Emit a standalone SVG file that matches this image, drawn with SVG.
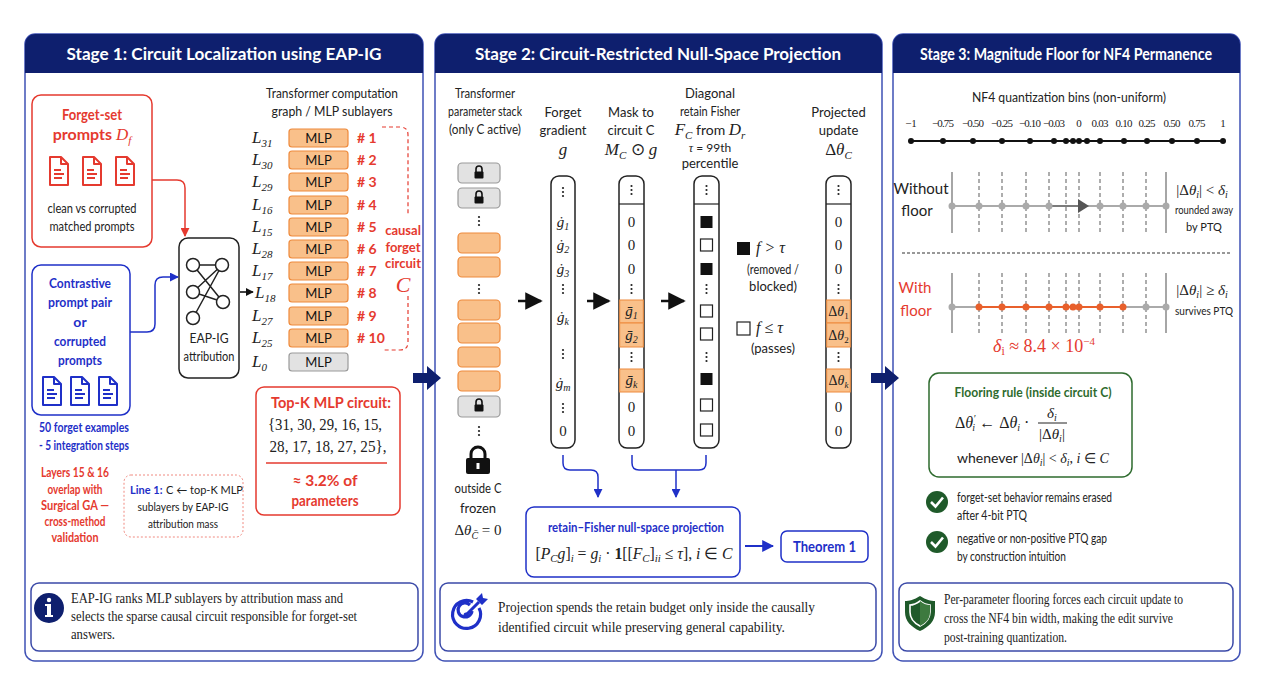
<svg xmlns="http://www.w3.org/2000/svg" width="1272" height="682" viewBox="0 0 1272 682">
<style>
.sans{font-family:Lato,"Liberation Sans",sans-serif}
.serif{font-family:"Liberation Serif",serif}
.it{font-style:italic}
.ttl{font-family:Lato,"Liberation Sans",sans-serif;font-weight:700;font-size:17px;fill:#fff}
.panel{fill:#fff;stroke:#3f51b5;stroke-width:1.5}
.hdr{fill:#0e1f6e}
.red{fill:#e53a2f}
.blue{fill:#1f30c8}
.green{fill:#2e6b2e}
.mlp{fill:#f9c08a;stroke:#ee8a3c;stroke-width:1.2}
.mlpg{fill:#e2e2e2;stroke:#9a9a9a;stroke-width:1.2}
.col{fill:#fff;stroke:#222;stroke-width:1.5}
.cell{fill:#f9c08a;stroke:#ee8a3c;stroke-width:1}
.infobox{fill:#fff;stroke:#3b4aa8;stroke-width:1.5}
.dash{stroke:#777;stroke-width:1.2;stroke-dasharray:4 3}
</style>
<defs>
<marker id="ah" viewBox="0 0 10 10" refX="9" refY="5" markerWidth="5" markerHeight="5" orient="auto"><path d="M0,0 L10,5 L0,10 Z" fill="#111"/></marker>
<marker id="ahs" viewBox="0 0 10 10" refX="9" refY="5" markerWidth="7" markerHeight="7" orient="auto"><path d="M0,0 L10,5 L0,10 Z" fill="#111"/></marker>
<marker id="ahr" viewBox="0 0 10 10" refX="9" refY="5" markerWidth="6" markerHeight="6" orient="auto"><path d="M0,0 L10,5 L0,10 Z" fill="#e53a2f"/></marker>
<marker id="ahb" viewBox="0 0 10 10" refX="9" refY="5" markerWidth="6" markerHeight="6" orient="auto"><path d="M0,0 L10,5 L0,10 Z" fill="#1f30c8"/></marker>
<g id="docr" fill="none" stroke="#e53a2f" stroke-width="2" stroke-linejoin="round"><path d="M0,0 H11 L18,7 V28 H0 Z"/><path d="M11,0 V7 H18"/><path d="M4,13 H11 M4,17 H14 M4,21 H12"/></g>
<g id="docb" fill="none" stroke="#1f30c8" stroke-width="2" stroke-linejoin="round"><path d="M0,0 H11 L18,7 V28 H0 Z"/><path d="M11,0 V7 H18"/><path d="M4,13 H11 M4,17 H14 M4,21 H12"/></g>
<g id="lock"><path d="M-3,0 V-3 A3,3 0 0 1 3,-3 V0" fill="none" stroke="#111" stroke-width="1.6"/><rect x="-4.5" y="-0.5" width="9" height="7" rx="1" fill="#111"/></g>
<g id="vd" fill="#222"><circle cx="0" cy="-4" r="1.1"/><circle cx="0" cy="0" r="1.1"/><circle cx="0" cy="4" r="1.1"/></g>
</defs>
<rect width="1272" height="682" fill="#fff"/>

<!-- Panels -->
<g id="panel1">
<rect class="panel" x="25" y="34" width="398" height="627" rx="10"/>
<path class="hdr" d="M25,73 V44 A10,10 0 0 1 35,34 H413 A10,10 0 0 1 423,44 V73 Z"/>
<text class="ttl" x="224" y="60" text-anchor="middle" textLength="315" lengthAdjust="spacingAndGlyphs">Stage 1: Circuit Localization using EAP-IG</text>
</g>
<g id="panel2">
<rect class="panel" x="435" y="34" width="447" height="627" rx="10"/>
<path class="hdr" d="M435,73 V44 A10,10 0 0 1 445,34 H872 A10,10 0 0 1 882,44 V73 Z"/>
<text class="ttl" x="658" y="60" text-anchor="middle" textLength="366" lengthAdjust="spacingAndGlyphs">Stage 2: Circuit-Restricted Null-Space Projection</text>
</g>
<g id="panel3">
<rect class="panel" x="893" y="34" width="347" height="627" rx="10"/>
<path class="hdr" d="M893,73 V44 A10,10 0 0 1 903,34 H1230 A10,10 0 0 1 1240,44 V73 Z"/>
<text class="ttl" x="1066" y="60" text-anchor="middle" font-size="16" textLength="292" lengthAdjust="spacingAndGlyphs">Stage 3: Magnitude Floor for NF4 Permanence</text>
</g>

<!-- Stage 1 nodes -->
<g id="forget-set">
<rect x="32" y="95" width="120" height="152" rx="9" fill="#fff" stroke="#e53a2f" stroke-width="1.5"/>
<text class="sans red" x="92" y="120" text-anchor="middle" font-size="16" font-weight="700" textLength="60" lengthAdjust="spacingAndGlyphs">Forget-set</text>
<text class="sans red" x="92" y="140" text-anchor="middle" font-size="16" font-weight="700">prompts <tspan class="serif it" font-weight="400" font-size="17">D</tspan><tspan class="serif it" font-weight="400" font-size="11" dy="4">f</tspan></text>
<use href="#docr" x="50" y="157"/><use href="#docr" x="83" y="157"/><use href="#docr" x="116" y="157"/>
<text class="sans" x="92" y="213" text-anchor="middle" font-size="13" fill="#222" textLength="89" lengthAdjust="spacingAndGlyphs">clean vs corrupted</text>
<text class="sans" x="92" y="231" text-anchor="middle" font-size="13" fill="#222" textLength="85" lengthAdjust="spacingAndGlyphs">matched prompts</text>
</g>
<g id="contrastive">
<rect x="32" y="265" width="98" height="150" rx="9" fill="#fff" stroke="#1f30c8" stroke-width="1.5"/>
<g class="sans blue" font-size="14" font-weight="700" text-anchor="middle">
<text x="80" y="288" textLength="62" lengthAdjust="spacingAndGlyphs">Contrastive</text>
<text x="80" y="307" textLength="64" lengthAdjust="spacingAndGlyphs">prompt pair</text>
<text x="80" y="327">or</text>
<text x="80" y="346" textLength="52" lengthAdjust="spacingAndGlyphs">corrupted</text>
<text x="80" y="365" textLength="44" lengthAdjust="spacingAndGlyphs">prompts</text>
</g>
<use href="#docb" x="43" y="377"/><use href="#docb" x="71" y="377"/><use href="#docb" x="99" y="377"/>
</g>
<g id="forget-note" class="sans blue" font-size="13" font-weight="700" text-anchor="middle">
<text x="84" y="432" textLength="90" lengthAdjust="spacingAndGlyphs">50 forget examples</text>
<text x="84" y="450" textLength="90" lengthAdjust="spacingAndGlyphs">- 5 integration steps</text>
</g>
<g id="overlap-note" class="sans red" font-size="13" font-weight="700" text-anchor="middle">
<text x="75" y="477" textLength="68" lengthAdjust="spacingAndGlyphs">Layers 15 &amp; 16</text>
<text x="75" y="494" textLength="55" lengthAdjust="spacingAndGlyphs">overlap with</text>
<text x="75" y="510" textLength="68" lengthAdjust="spacingAndGlyphs">Surgical GA —</text>
<text x="75" y="526" textLength="61" lengthAdjust="spacingAndGlyphs">cross-method</text>
<text x="75" y="542" textLength="47" lengthAdjust="spacingAndGlyphs">validation</text>
</g>
<g id="line1-note">
<rect x="124" y="475" width="119" height="62" rx="7" fill="#fff" stroke="#f08a80" stroke-width="1" stroke-dasharray="2 2"/>
<text class="sans blue" x="130" y="494" font-size="11" font-weight="700">Line 1:</text>
<text class="sans" x="166" y="494" font-size="11" fill="#222">C ← top-K MLP</text>
<text class="sans" x="183" y="511" text-anchor="middle" font-size="12" fill="#222" textLength="91" lengthAdjust="spacingAndGlyphs">sublayers by EAP-IG</text>
<text class="sans" x="183" y="528" text-anchor="middle" font-size="12" fill="#222" textLength="70" lengthAdjust="spacingAndGlyphs">attribution mass</text>
</g>
<g id="eap-ig">
<rect x="179" y="238" width="60" height="140" rx="9" fill="#fff" stroke="#222" stroke-width="1.5"/>
<g stroke="#222" stroke-width="1.5" fill="none">
<path d="M193,265 L222,265 M193,265 L223,302 M222,265 L193,292 M222,265 L193,318 M193,292 L223,302"/>
<circle cx="193" cy="265" r="6.5" fill="#fff"/><circle cx="222" cy="265" r="6.5" fill="#fff"/><circle cx="193" cy="292" r="6.5" fill="#fff"/><circle cx="223" cy="302" r="6.5" fill="#fff"/><circle cx="193" cy="318" r="6.5" fill="#fff"/>
</g>
<text class="sans" x="209" y="343" text-anchor="middle" font-size="13" fill="#222" textLength="39" lengthAdjust="spacingAndGlyphs">EAP-IG</text>
<text class="sans" x="209" y="361" text-anchor="middle" font-size="13" fill="#222" textLength="51" lengthAdjust="spacingAndGlyphs">attribution</text>
</g>
<g id="mlp-stack">
<text class="sans" x="332" y="98" text-anchor="middle" font-size="13" fill="#222" textLength="132" lengthAdjust="spacingAndGlyphs">Transformer computation</text>
<text class="sans" x="332" y="116" text-anchor="middle" font-size="13" fill="#222" textLength="121" lengthAdjust="spacingAndGlyphs">graph / MLP sublayers</text>
<g class="serif it" font-size="17" fill="#222">
<text x="252" y="143">L<tspan font-size="11" dy="4">31</tspan></text>
<text x="252" y="165">L<tspan font-size="11" dy="4">30</tspan></text>
<text x="252" y="187">L<tspan font-size="11" dy="4">29</tspan></text>
<text x="252" y="210">L<tspan font-size="11" dy="4">16</tspan></text>
<text x="252" y="232">L<tspan font-size="11" dy="4">15</tspan></text>
<text x="252" y="254">L<tspan font-size="11" dy="4">28</tspan></text>
<text x="252" y="276">L<tspan font-size="11" dy="4">17</tspan></text>
<text x="255" y="298">L<tspan font-size="11" dy="4">18</tspan></text>
<text x="252" y="321">L<tspan font-size="11" dy="4">27</tspan></text>
<text x="252" y="343">L<tspan font-size="11" dy="4">25</tspan></text>
<text x="252" y="367">L<tspan font-size="11" dy="4">0</tspan></text>
</g>
<rect class="mlp" x="289" y="129" width="59" height="18" rx="3"/>
<rect class="mlp" x="289" y="151" width="59" height="18" rx="3"/>
<rect class="mlp" x="289" y="173" width="59" height="18" rx="3"/>
<rect class="mlp" x="289" y="196" width="59" height="18" rx="3"/>
<rect class="mlp" x="289" y="218" width="59" height="18" rx="3"/>
<rect class="mlp" x="289" y="240" width="59" height="18" rx="3"/>
<rect class="mlp" x="289" y="262" width="59" height="18" rx="3"/>
<rect class="mlp" x="289" y="284" width="59" height="18" rx="3"/>
<rect class="mlp" x="289" y="307" width="59" height="18" rx="3"/>
<rect class="mlp" x="289" y="329" width="59" height="18" rx="3"/>
<rect class="mlpg" x="289" y="353" width="59" height="18" rx="3"/>
<g class="sans" font-size="13" fill="#111" text-anchor="middle">
<text x="318.5" y="143">MLP</text><text x="318.5" y="165">MLP</text><text x="318.5" y="187">MLP</text><text x="318.5" y="210">MLP</text><text x="318.5" y="232">MLP</text><text x="318.5" y="254">MLP</text><text x="318.5" y="276">MLP</text><text x="318.5" y="298">MLP</text><text x="318.5" y="321">MLP</text><text x="318.5" y="343">MLP</text><text x="318.5" y="367">MLP</text>
</g>
<g class="sans red" font-size="14" font-weight="700">
<text x="357" y="143"># 1</text><text x="357" y="165"># 2</text><text x="357" y="187"># 3</text><text x="357" y="210"># 4</text><text x="357" y="232"># 5</text><text x="357" y="254"># 6</text><text x="357" y="276"># 7</text><text x="357" y="298"># 8</text><text x="357" y="321"># 9</text><text x="357" y="343"># 10</text>
</g>
</g>
<g id="causal-circuit">
<path d="M382,127 H400 Q408,127 408,135 V216 M408,296 V342 Q408,350 400,350 H382" fill="none" stroke="#e53a2f" stroke-width="1.2" stroke-dasharray="4 3"/>
<g class="sans red" font-size="13" font-weight="700" text-anchor="middle">
<text x="403" y="235">causal</text><text x="403" y="252">forget</text><text x="403" y="268">circuit</text>
</g>
<text class="serif it red" x="403" y="292" text-anchor="middle" font-size="22">C</text>
</g>
<g id="topk">
<rect x="256" y="387" width="144" height="128" rx="8" fill="#fff" stroke="#e53a2f" stroke-width="1.5"/>
<text class="sans red" x="331" y="408" text-anchor="middle" font-size="15" font-weight="700" textLength="120" lengthAdjust="spacingAndGlyphs">Top-K MLP circuit:</text>
<text class="serif" x="325" y="430" text-anchor="middle" font-size="16" fill="#222" textLength="114" lengthAdjust="spacingAndGlyphs">{31, 30, 29, 16, 15,</text>
<text class="serif" x="328" y="452" text-anchor="middle" font-size="16" fill="#222" textLength="117" lengthAdjust="spacingAndGlyphs">28, 17, 18, 27, 25},</text>
<line x1="266" y1="463" x2="387" y2="463" stroke="#e53a2f" stroke-width="1.3"/>
<text class="sans red" x="325" y="486" text-anchor="middle" font-size="16" font-weight="700" textLength="65" lengthAdjust="spacingAndGlyphs">≈ 3.2% of</text>
<text class="sans red" x="325" y="506" text-anchor="middle" font-size="16" font-weight="700" textLength="67" lengthAdjust="spacingAndGlyphs">parameters</text>
</g>
<g id="info1">
<rect class="infobox" x="31" y="583" width="387" height="68" rx="8"/>
<circle cx="49" cy="608" r="15" fill="#0e1f6e"/>
<circle cx="49" cy="600" r="2.2" fill="#fff"/>
<path d="M45,604 H51 V615 H53 V617 H45 V615 H47 V606 H45 Z" fill="#fff"/>
<g class="serif" font-size="14" fill="#222">
<text x="71" y="603" textLength="272" lengthAdjust="spacingAndGlyphs">EAP-IG ranks MLP sublayers by attribution mass and</text>
<text x="71" y="621" textLength="286" lengthAdjust="spacingAndGlyphs">selects the sparse causal circuit responsible for forget-set</text>
<text x="71" y="639" textLength="44" lengthAdjust="spacingAndGlyphs">answers.</text>
</g>
</g>

<!-- Stage 2 nodes -->
<g id="param-stack">
<g class="sans" font-size="13" fill="#222" text-anchor="middle">
<text x="485" y="98" textLength="60" lengthAdjust="spacingAndGlyphs">Transformer</text>
<text x="485" y="116" textLength="74" lengthAdjust="spacingAndGlyphs">parameter stack</text>
<text x="485" y="134" textLength="72" lengthAdjust="spacingAndGlyphs">(only C active)</text>
</g>
<rect class="mlpg" x="458" y="163" width="42" height="20" rx="4"/>
<rect class="mlpg" x="458" y="188" width="42" height="20" rx="4"/>
<use href="#vd" x="479" y="221"/>
<rect class="mlp" x="458" y="233" width="42" height="20" rx="4"/>
<rect class="mlp" x="458" y="257" width="42" height="20" rx="4"/>
<use href="#vd" x="479" y="289"/>
<rect class="mlp" x="458" y="300" width="42" height="20" rx="4"/>
<rect class="mlp" x="458" y="323" width="42" height="20" rx="4"/>
<rect class="mlp" x="458" y="347" width="42" height="20" rx="4"/>
<rect class="mlp" x="458" y="371" width="42" height="20" rx="4"/>
<rect class="mlpg" x="458" y="396" width="42" height="21" rx="4"/>
<use href="#lock" x="479" y="172"/><use href="#lock" x="479" y="197"/><use href="#lock" x="479" y="405"/>
<use href="#vd" x="479" y="431"/>
<path d="M471,459 V454 A7,7 0 0 1 485,454 V459" fill="none" stroke="#111" stroke-width="3"/>
<rect x="466" y="458" width="24" height="16" rx="2" fill="#111"/>
<rect x="476.5" y="463" width="3" height="6" fill="#fff"/>
<text class="sans" x="478" y="493" text-anchor="middle" font-size="13" fill="#222" textLength="47" lengthAdjust="spacingAndGlyphs">outside C</text>
<text class="sans" x="478" y="513" text-anchor="middle" font-size="13" fill="#222">frozen</text>
<text class="serif" x="478" y="535" text-anchor="middle" font-size="15" fill="#222">Δ<tspan class="it">θ</tspan><tspan class="it" font-size="10" dy="4">C̄</tspan><tspan dy="-4"> = 0</tspan></text>
</g>
<g id="forget-gradient">
<text class="sans" x="563" y="117" text-anchor="middle" font-size="13" fill="#222">Forget</text>
<text class="sans" x="563" y="135" text-anchor="middle" font-size="13" fill="#222">gradient</text>
<text class="serif it" x="563" y="155" text-anchor="middle" font-size="17" fill="#222">g</text>
<rect class="col" x="551" y="176" width="24" height="272" rx="8"/>
<use href="#vd" x="563" y="192"/>
<g class="serif it" font-size="15" fill="#222" text-anchor="middle">
<text x="563" y="227">ġ<tspan font-size="10" dy="3">1</tspan></text>
<text x="563" y="250">ġ<tspan font-size="10" dy="3">2</tspan></text>
<text x="563" y="274">ġ<tspan font-size="10" dy="3">3</tspan></text>
<text x="563" y="322">ġ<tspan font-size="10" dy="3">k</tspan></text>
<text x="563" y="388">ġ<tspan font-size="10" dy="3">m</tspan></text>
</g>
<use href="#vd" x="563" y="289"/><use href="#vd" x="563" y="354"/><use href="#vd" x="563" y="408"/>
<text class="serif" x="563" y="436" text-anchor="middle" font-size="15" fill="#222">0</text>
</g>
<g id="mask">
<text class="sans" x="631" y="117" text-anchor="middle" font-size="13" fill="#222">Mask to</text>
<text class="sans" x="631" y="135" text-anchor="middle" font-size="13" fill="#222">circuit C</text>
<text class="serif it" x="631" y="155" text-anchor="middle" font-size="17" fill="#222">M<tspan font-size="11" dy="4">C</tspan><tspan dy="-4" font-style="normal"> ⊙ </tspan>g</text>
<rect class="col" x="619" y="176" width="25" height="272" rx="8"/>
<rect class="cell" x="619.7" y="300" width="23.6" height="23"/>
<rect class="cell" x="619.7" y="323" width="23.6" height="24"/>
<rect class="cell" x="619.7" y="369" width="23.6" height="23"/>
<line x1="619" y1="204" x2="644" y2="204" stroke="#222" stroke-width="1.2"/>
<use href="#vd" x="631.5" y="190"/>
<g class="serif" font-size="15" fill="#222" text-anchor="middle">
<text x="631.5" y="227">0</text><text x="631.5" y="250">0</text><text x="631.5" y="274">0</text>
<text x="631.5" y="412">0</text><text x="631.5" y="436">0</text>
</g>
<use href="#vd" x="631.5" y="289"/><use href="#vd" x="631.5" y="357"/>
<g class="serif it" font-size="15" fill="#222" text-anchor="middle">
<text x="631.5" y="316">ḡ<tspan font-size="10" dy="3">1</tspan></text>
<text x="631.5" y="340">ḡ<tspan font-size="10" dy="3">2</tspan></text>
<text x="631.5" y="385">ḡ<tspan font-size="10" dy="3">k</tspan></text>
</g>
</g>
<g id="fisher">
<g class="sans" font-size="13" fill="#222" text-anchor="middle">
<text x="710" y="98">Diagonal</text>
<text x="710" y="116" textLength="60" lengthAdjust="spacingAndGlyphs">retain Fisher</text>
</g>
<text class="sans" x="710" y="135" text-anchor="middle" font-size="14" fill="#222"><tspan class="serif it" font-size="17">F</tspan><tspan class="serif it" font-size="11" dy="4">C</tspan><tspan dy="-4"> from </tspan><tspan class="serif it" font-size="17">D</tspan><tspan class="serif it" font-size="11" dy="4">r</tspan></text>
<text class="sans" x="710" y="152" text-anchor="middle" font-size="12" fill="#222"><tspan class="serif it">τ</tspan> = 99th</text>
<text class="sans" x="710" y="168" text-anchor="middle" font-size="13" fill="#222">percentile</text>
<rect class="col" x="694" y="176" width="25" height="272" rx="8"/>
<line x1="694" y1="204" x2="719" y2="204" stroke="#222" stroke-width="1.2"/>
<use href="#vd" x="706.5" y="190"/><use href="#vd" x="706.5" y="289"/><use href="#vd" x="706.5" y="357"/>
<rect x="700.5" y="216" width="12" height="12" fill="#111"/>
<rect x="700.5" y="239" width="12" height="12" fill="#fff" stroke="#222" stroke-width="1.2"/>
<rect x="700.5" y="263" width="12" height="12" fill="#111"/>
<rect x="700.5" y="305" width="12" height="12" fill="#fff" stroke="#222" stroke-width="1.2"/>
<rect x="700.5" y="328" width="12" height="12" fill="#fff" stroke="#222" stroke-width="1.2"/>
<rect x="700.5" y="373" width="12" height="12" fill="#111"/>
<rect x="700.5" y="399" width="12" height="12" fill="#fff" stroke="#222" stroke-width="1.2"/>
<rect x="700.5" y="424" width="12" height="12" fill="#fff" stroke="#222" stroke-width="1.2"/>
</g>
<g id="fisher-legend">
<rect x="737" y="242" width="13" height="13" fill="#111"/>
<text class="serif it" x="756" y="253" font-size="16" fill="#222">f &gt; τ</text>
<text class="sans" x="773" y="274" text-anchor="middle" font-size="13" fill="#222" textLength="52" lengthAdjust="spacingAndGlyphs">(removed /</text>
<text class="sans" x="773" y="291" text-anchor="middle" font-size="13" fill="#222">blocked)</text>
<rect x="737" y="322" width="13" height="13" fill="#fff" stroke="#222" stroke-width="1.2"/>
<text class="serif it" x="756" y="333" font-size="16" fill="#222">f ≤ τ</text>
<text class="sans" x="773" y="353" text-anchor="middle" font-size="13" fill="#222">(passes)</text>
</g>
<g id="projected">
<text class="sans" x="838.5" y="117" text-anchor="middle" font-size="13" fill="#222">Projected</text>
<text class="sans" x="838.5" y="135" text-anchor="middle" font-size="13" fill="#222">update</text>
<text class="serif" x="838.5" y="155" text-anchor="middle" font-size="17" fill="#222">Δ<tspan class="it">θ</tspan><tspan class="it" font-size="11" dy="4">C</tspan></text>
<rect class="col" x="826" y="176" width="25" height="272" rx="8"/>
<rect class="cell" x="826.7" y="300" width="23.6" height="23"/>
<rect class="cell" x="826.7" y="323" width="23.6" height="24"/>
<rect class="cell" x="826.7" y="369" width="23.6" height="23"/>
<line x1="826" y1="204" x2="851" y2="204" stroke="#222" stroke-width="1.2"/>
<use href="#vd" x="838.5" y="190"/><use href="#vd" x="838.5" y="289"/><use href="#vd" x="838.5" y="357"/>
<g class="serif" font-size="15" fill="#222" text-anchor="middle">
<text x="838.5" y="227">0</text><text x="838.5" y="250">0</text><text x="838.5" y="274">0</text>
<text x="838.5" y="412">0</text><text x="838.5" y="436">0</text>
</g>
<g class="serif" font-size="14" fill="#222" text-anchor="middle">
<text x="838.5" y="316">Δ<tspan class="it">θ</tspan><tspan font-size="9" dy="3">1</tspan></text>
<text x="838.5" y="340">Δ<tspan class="it">θ</tspan><tspan font-size="9" dy="3">2</tspan></text>
<text x="838.5" y="385">Δ<tspan class="it">θ</tspan><tspan class="it" font-size="9" dy="3">k</tspan></text>
</g>
</g>
<g id="projection">
<rect x="526" y="507" width="214" height="70" rx="8" fill="#fff" stroke="#1f30c8" stroke-width="1.5"/>
<text class="sans blue" x="636" y="532" text-anchor="middle" font-size="13" font-weight="700" textLength="176" lengthAdjust="spacingAndGlyphs">retain–Fisher null-space projection</text>
<text class="serif" x="634" y="559" text-anchor="middle" font-size="16" fill="#222" textLength="197" lengthAdjust="spacingAndGlyphs">[<tspan class="it">P</tspan><tspan class="it" font-size="11" dy="3">C</tspan><tspan class="it" dy="-3">g</tspan>]<tspan class="it" font-size="11" dy="3">i</tspan><tspan dy="-3"> = </tspan><tspan class="it">g</tspan><tspan class="it" font-size="11" dy="3">i</tspan><tspan dy="-3"> · </tspan><tspan font-weight="700">1</tspan>[[<tspan class="it">F</tspan><tspan class="it" font-size="11" dy="3">C</tspan><tspan dy="-3">]</tspan><tspan class="it" font-size="11" dy="3">ii</tspan><tspan dy="-3"> ≤ </tspan><tspan class="it">τ</tspan>],  <tspan class="it">i</tspan> ∈ <tspan class="it">C</tspan></text>
</g>
<g id="theorem1">
<rect x="781" y="531" width="87" height="31" rx="6" fill="#fff" stroke="#1f30c8" stroke-width="1.5"/>
<text class="sans blue" x="824.5" y="552" text-anchor="middle" font-size="16" font-weight="700" textLength="63" lengthAdjust="spacingAndGlyphs">Theorem 1</text>
</g>
<g id="info2">
<rect class="infobox" x="440" y="583" width="436" height="68" rx="8"/>
<g fill="none" stroke="#1f30c8" stroke-width="3.2">
<path d="M479,608 A14,14 0 1 1 473,602"/>
<path d="M472,611 A7,7 0 1 1 470,605"/>
</g>
<circle cx="466" cy="615" r="2.5" fill="#1f30c8"/>
<path d="M466,615 L479,602" stroke="#1f30c8" stroke-width="3"/>
<path d="M476,599 L482,593 L483,598 L488,599 L482,605 Z" fill="#1f30c8"/>
<g class="serif" font-size="15" fill="#222">
<text x="498" y="612" textLength="317" lengthAdjust="spacingAndGlyphs">Projection spends the retain budget only inside the causally</text>
<text x="498" y="632" textLength="287" lengthAdjust="spacingAndGlyphs">identified circuit while preserving general capability.</text>
</g>
</g>

<!-- Stage 3 nodes -->
<g id="nf4-bins">
<text class="sans" x="1069" y="102" text-anchor="middle" font-size="14" fill="#222" textLength="194" lengthAdjust="spacingAndGlyphs">NF4 quantization bins (non-uniform)</text>
<g class="serif" font-size="11" fill="#222" text-anchor="middle" lengthAdjust="spacingAndGlyphs">
<text x="911" y="127">−1</text><text x="943" y="127" textLength="22">−0.75</text><text x="973" y="127" textLength="22">−0.50</text><text x="1002" y="127" textLength="22">−0.25</text><text x="1030" y="127" textLength="22">−0.10</text><text x="1054" y="127" textLength="22">−0.03</text><text x="1079" y="127">0</text><text x="1100" y="127" textLength="17">0.03</text><text x="1124" y="127" textLength="17">0.10</text><text x="1147" y="127" textLength="17">0.25</text><text x="1172" y="127" textLength="17">0.50</text><text x="1197" y="127" textLength="17">0.75</text><text x="1223" y="127">1</text>
</g>
<line x1="911" y1="141" x2="1223" y2="141" stroke="#111" stroke-width="2"/>
<g fill="#111">
<circle cx="911" cy="141" r="3"/><circle cx="943" cy="141" r="3"/><circle cx="973" cy="141" r="3"/><circle cx="1002" cy="141" r="3"/><circle cx="1030" cy="141" r="3"/><circle cx="1054" cy="141" r="3"/><circle cx="1066" cy="141" r="3"/><circle cx="1073" cy="141" r="3"/><circle cx="1079" cy="141" r="3"/><circle cx="1087" cy="141" r="3"/><circle cx="1100" cy="141" r="3"/><circle cx="1124" cy="141" r="3"/><circle cx="1147" cy="141" r="3"/><circle cx="1172" cy="141" r="3"/><circle cx="1197" cy="141" r="3"/><circle cx="1223" cy="141" r="3"/>
</g>
</g>
<g id="without-floor">
<text class="sans" x="921" y="194" text-anchor="middle" font-size="15" fill="#222">Without</text>
<text class="sans" x="917" y="216" text-anchor="middle" font-size="15" fill="#222">floor</text>
<line x1="952" y1="172" x2="952" y2="233" stroke="#888" stroke-width="1.5"/>
<line x1="1166" y1="172" x2="1166" y2="233" stroke="#888" stroke-width="1.5"/>
<path class="dash" d="M979,172V233M1002,172V233M1026,172V233M1049,172V233M1066,172V233M1079,172V233M1100,172V233M1123,172V233M1146,172V233"/>
<line x1="952" y1="206" x2="1166" y2="206" stroke="#aaa" stroke-width="1.8"/>
<line x1="1049" y1="206" x2="1080" y2="206" stroke="#777" stroke-width="1.8"/>
<g fill="#aaa"><circle cx="952" cy="206" r="3.5"/><circle cx="979" cy="206" r="3.5"/><circle cx="1002" cy="206" r="3.5"/><circle cx="1026" cy="206" r="3.5"/><circle cx="1049" cy="206" r="3.5"/><circle cx="1100" cy="206" r="3.5"/><circle cx="1123" cy="206" r="3.5"/><circle cx="1146" cy="206" r="3.5"/><circle cx="1166" cy="206" r="3.5"/></g>
<path d="M1078,199 L1089,206 L1078,213 Z" fill="#555"/>
<text class="serif" x="1202" y="195" text-anchor="middle" font-size="15" fill="#222">|Δ<tspan class="it">θ</tspan><tspan class="it" font-size="10" dy="3">i</tspan><tspan dy="-3">| &lt; </tspan><tspan class="it">δ</tspan><tspan class="it" font-size="10" dy="3">i</tspan></text>
<text class="sans" x="1204" y="214" text-anchor="middle" font-size="11" fill="#222" textLength="58" lengthAdjust="spacingAndGlyphs">rounded away</text>
<text class="sans" x="1204" y="231" text-anchor="middle" font-size="11" fill="#222">by PTQ</text>
</g>
<line x1="902" y1="253" x2="1232" y2="253" stroke="#333" stroke-width="1.2" stroke-dasharray="3 2"/>
<g id="with-floor">
<text class="sans red" x="915" y="293" text-anchor="middle" font-size="15">With</text>
<text class="sans red" x="916" y="316" text-anchor="middle" font-size="15">floor</text>
<line x1="952" y1="273" x2="952" y2="333" stroke="#888" stroke-width="1.5"/>
<line x1="1166" y1="273" x2="1166" y2="333" stroke="#888" stroke-width="1.5"/>
<path class="dash" d="M979,273V333M1002,273V333M1026,273V333M1049,273V333M1066,273V333M1079,273V333M1100,273V333M1123,273V333M1146,273V333"/>
<line x1="952" y1="307" x2="1166" y2="307" stroke="#aaa" stroke-width="1.8"/>
<line x1="979" y1="307" x2="1123" y2="307" stroke="#e8602c" stroke-width="1.8"/>
<g fill="#aaa"><circle cx="952" cy="307" r="3.5"/><circle cx="1146" cy="307" r="3.5"/><circle cx="1166" cy="307" r="3.5"/></g>
<g fill="#e8602c"><circle cx="979" cy="307" r="3.5"/><circle cx="1002" cy="307" r="3.5"/><circle cx="1026" cy="307" r="3.5"/><circle cx="1049" cy="307" r="3.5"/><circle cx="1066" cy="307" r="3.5"/><circle cx="1073" cy="307" r="3.5"/><circle cx="1079" cy="307" r="3.5"/><circle cx="1100" cy="307" r="3.5"/><circle cx="1123" cy="307" r="3.5"/></g>
<text class="serif" x="1202" y="295" text-anchor="middle" font-size="15" fill="#222">|Δ<tspan class="it">θ</tspan><tspan class="it" font-size="10" dy="3">i</tspan><tspan dy="-3">| ≥ </tspan><tspan class="it">δ</tspan><tspan class="it" font-size="10" dy="3">i</tspan></text>
<text class="sans" x="1204" y="315" text-anchor="middle" font-size="11" fill="#222" textLength="58" lengthAdjust="spacingAndGlyphs">survives PTQ</text>
<text class="serif red" x="1044" y="352" text-anchor="middle" font-size="18"><tspan class="it">δ</tspan><tspan font-size="12" dy="3">i</tspan><tspan dy="-3"> ≈ 8.4 × 10</tspan><tspan font-size="11" dy="-7">−4</tspan></text>
</g>
<g id="flooring-rule">
<rect x="929" y="373" width="203" height="104" rx="10" fill="#fff" stroke="#2e6b2e" stroke-width="1.5"/>
<text class="sans green" x="1033" y="397" text-anchor="middle" font-size="14" font-weight="700" textLength="157" lengthAdjust="spacingAndGlyphs">Flooring rule (inside circuit C)</text>
<text class="serif" x="955" y="428" font-size="16" fill="#222">Δ<tspan class="it">θ</tspan><tspan class="it" font-size="10" dy="-6">′</tspan><tspan class="it" font-size="10" dx="-3" dy="9">i</tspan><tspan dy="-3">  ←  Δ</tspan><tspan class="it">θ</tspan><tspan class="it" font-size="10" dy="3">i</tspan><tspan dy="-3"> ·</tspan></text>
<text class="serif it" x="1052" y="418" text-anchor="middle" font-size="15" fill="#222">δ<tspan font-size="10" dy="3">i</tspan></text>
<line x1="1038" y1="423" x2="1067" y2="423" stroke="#222" stroke-width="1"/>
<text class="serif" x="1052" y="439" text-anchor="middle" font-size="15" fill="#222">|Δ<tspan class="it">θ</tspan><tspan class="it" font-size="10" dy="3">i</tspan><tspan dy="-3">|</tspan></text>
<text class="sans" x="957" y="463" font-size="14" fill="#222">whenever <tspan class="serif">|Δ</tspan><tspan class="serif it">θ</tspan><tspan class="serif it" font-size="10" dy="3">i</tspan><tspan class="serif" dy="-3">| &lt; </tspan><tspan class="serif it">δ</tspan><tspan class="serif it" font-size="10" dy="3">i</tspan><tspan class="serif" dy="-3">,  </tspan><tspan class="serif it">i</tspan><tspan class="serif"> ∈ </tspan><tspan class="serif it">C</tspan></text>
</g>
<g id="checks">
<circle cx="937" cy="502" r="11" fill="#1f5a2a"/>
<path d="M931,502 L935.5,506.5 L943,497.5" fill="none" stroke="#fff" stroke-width="2.6"/>
<circle cx="937" cy="542" r="11" fill="#1f5a2a"/>
<path d="M931,542 L935.5,546.5 L943,537.5" fill="none" stroke="#fff" stroke-width="2.6"/>
<g class="sans" font-size="12.5" fill="#222">
<text x="957" y="502" textLength="155" lengthAdjust="spacingAndGlyphs">forget-set behavior remains erased</text>
<text x="957" y="520" textLength="70" lengthAdjust="spacingAndGlyphs">after 4-bit PTQ</text>
<text x="957" y="543" textLength="150" lengthAdjust="spacingAndGlyphs">negative or non-positive PTQ gap</text>
<text x="957" y="561" textLength="109" lengthAdjust="spacingAndGlyphs">by construction intuition</text>
</g>
</g>
<g id="info3">
<rect class="infobox" x="899" y="583" width="334" height="68" rx="8"/>
<path d="M920,596 C914,600 909,601 905,601 V612 C905,621 911,627 920,631 C929,627 935,621 935,612 V601 C931,601 926,600 920,596 Z" fill="#1f5a2a"/>
<path d="M920,601 C916,604 913,605 910,605 V612 C910,619 914,623 920,626 C926,623 930,619 930,612 V605 C927,605 924,604 920,601 Z" fill="none" stroke="#fff" stroke-width="1.6"/>
<path d="M920,601 V626 C926,623 930,619 930,612 V605 C927,605 924,604 920,601 Z" fill="#3d7a3f"/>
<g class="serif" font-size="14" fill="#222">
<text x="944" y="604" textLength="239" lengthAdjust="spacingAndGlyphs">Per-parameter flooring forces each circuit update to</text>
<text x="944" y="623" textLength="229" lengthAdjust="spacingAndGlyphs">cross the NF4 bin width, making the edit survive</text>
<text x="944" y="642" textLength="123" lengthAdjust="spacingAndGlyphs">post-training quantization.</text>
</g>
</g>

<!-- Connectors -->
<g id="connectors" fill="none">
<path d="M152,180 H177 Q185,180 185,188 V236" stroke="#e53a2f" stroke-width="1.5" marker-end="url(#ahr)"/>
<path d="M130,332 H147 Q155,332 155,324 V285 Q155,277 163,277 H178" stroke="#1f30c8" stroke-width="1.5" marker-end="url(#ahb)"/>
<path d="M240,292 H253" stroke="#111" stroke-width="1.6" marker-end="url(#ah)"/>
<path d="M518,301 H541" stroke="#111" stroke-width="2.5" marker-end="url(#ahs)"/>
<path d="M587,301 H609" stroke="#111" stroke-width="2.5" marker-end="url(#ahs)"/>
<path d="M661,301 H684" stroke="#111" stroke-width="2.5" marker-end="url(#ahs)"/>
<path d="M563,455 V463 Q563,470 570,470 H591 Q598,470 598,477 V497" stroke="#1f30c8" stroke-width="1.5" marker-end="url(#ahb)"/>
<path d="M632,455 V463 Q632,470 639,470 H699 Q706,470 706,463 V455" stroke="#1f30c8" stroke-width="1.5"/>
<path d="M676,470 V497" stroke="#1f30c8" stroke-width="1.5" marker-end="url(#ahb)"/>
<path d="M745,546 H773" stroke="#1f30c8" stroke-width="2" marker-end="url(#ahb)"/>
<path d="M413,373 H427 V366 L441,378 L427,390 V383 H413 Z" fill="#0e1f6e"/>
<path d="M871,373 H885 V366 L899,378 L885,390 V383 H871 Z" fill="#0e1f6e"/>
</g>
</svg>
